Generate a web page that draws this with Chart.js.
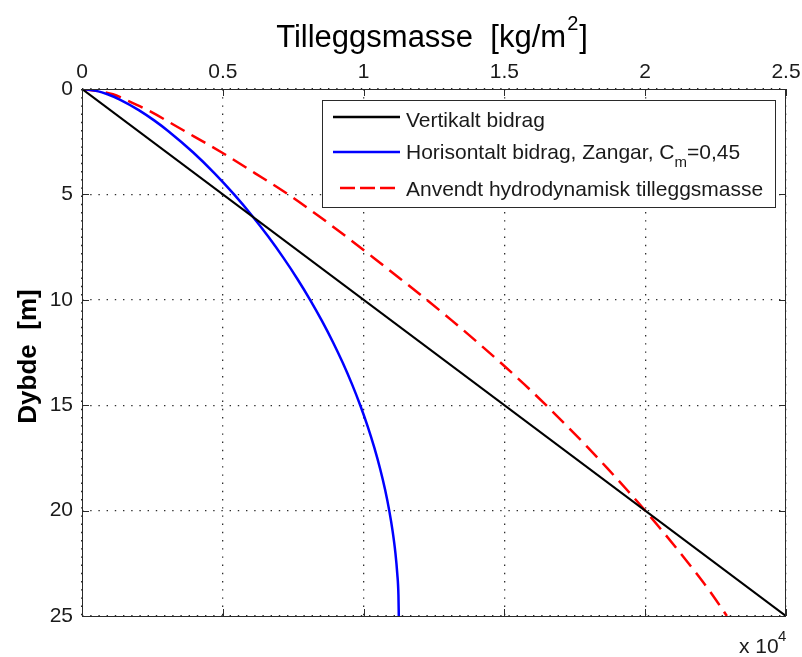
<!DOCTYPE html>
<html>
<head>
<meta charset="utf-8">
<script src="https://cdn.jsdelivr.net/npm/chart.js@4/dist/chart.umd.min.js"></script>
<style>
  html, body { margin: 0; padding: 0; background: #fff; }
  #wrap { width: 802px; height: 657px; position: relative; }
</style>
</head>
<body>
<div id="wrap"><canvas id="c" width="802" height="657"></canvas></div>
<script>
// Depth [m] and added mass [kg/m2] for each curve
const vertDepth = [0, 25];
const vertMass  = [0, 25000];

const horisDepth = [0, 0.1, 0.25, 0.5, 1, 1.5, 2, 3, 4, 5, 6, 7, 8, 9, 10, 11, 12, 13, 14, 15, 16, 17, 18, 19, 20, 21, 22, 23, 24, 25];
const horisMass  = [0, 547, 906, 1342, 2016, 2574, 3068, 3941, 4708, 5400, 6032, 6613, 7148, 7643, 8100, 8521, 8909, 9264, 9587, 9880, 10144, 10378, 10584, 10762, 10911, 11033, 11129, 11196, 11237, 11250];

const anvDepth = [0, 0.1, 0.25, 0.5, 1, 2, 3, 4, 5, 6, 7, 8, 9, 10, 11, 12, 13, 14, 15, 16, 17, 18, 19, 20, 21, 22, 23, 24, 25];
const anvMass  = [0, 600, 1100, 1540, 2330, 3650, 4950, 6150, 7320, 8380, 9380, 10350, 11300, 12240, 13150, 14030, 14880, 15700, 16480, 17230, 17960, 18660, 19340, 20000, 20630, 21240, 21830, 22390, 22900];

// Axis ticks
const xTickValues = [0, 5000, 10000, 15000, 20000, 25000];
const xTickLabels = ['0', '0.5', '1', '1.5', '2', '2.5'];
const yTickValues = [0, 5, 10, 15, 20, 25];
const yTickLabels = ['0', '5', '10', '15', '20', '25'];

const seriesNames = [
  'Vertikalt bidrag',
  'Horisontalt bidrag, Zangar, C',
  'Anvendt hydrodynamisk tilleggsmasse'
];

const FONT = "'Liberation Sans', Arial, Helvetica, sans-serif";
const toPoints = (ds, ms) => ds.map((d, i) => ({ x: ms[i], y: d }));

// Box, inward ticks, legend and free text in MATLAB style
const decorations = {
  id: 'decorations',
  afterDatasetsDraw(chart) {
    const { ctx, chartArea: a, scales: { x, y } } = chart;
    ctx.save();
    ctx.strokeStyle = '#2a2a2a';
    ctx.lineWidth = 1;
    ctx.setLineDash([]);
    ctx.beginPath();
    const tl = 7;
    xTickValues.forEach(v => {
      const px = Math.round(x.getPixelForValue(v)) + 0.5;
      ctx.moveTo(px, a.top); ctx.lineTo(px, a.top + tl);
      ctx.moveTo(px, a.bottom); ctx.lineTo(px, a.bottom - tl);
    });
    yTickValues.forEach(v => {
      const py = Math.round(y.getPixelForValue(v)) + 0.5;
      ctx.moveTo(a.left, py); ctx.lineTo(a.left + tl, py);
      ctx.moveTo(a.right, py); ctx.lineTo(a.right - tl, py);
    });
    ctx.stroke();
    ctx.strokeRect(Math.round(a.left) + 0.5, Math.round(a.top) + 0.5,
                   Math.round(a.right - a.left) - 1, Math.round(a.bottom - a.top));

    // legend box
    const lx = 322, ly = 100, lw = 453, lh = 107;
    ctx.fillStyle = '#fff';
    ctx.fillRect(lx, ly, lw, lh);
    ctx.strokeStyle = '#2a2a2a';
    ctx.strokeRect(lx + 0.5, ly + 0.5, lw, lh);

    const rows = [
      { color: '#000000', dash: [], width: 2.5, yLine: 117, yText: 127 },
      { color: '#0000ff', dash: [], width: 2.5, yLine: 152, yText: 159 },
      { color: '#ff0000', dash: [15, 5], width: 2.5, yLine: 188, yText: 196 }
    ];
    ctx.textBaseline = 'alphabetic';
    ctx.textAlign = 'left';
    rows.forEach((r, i) => {
      ctx.beginPath();
      ctx.strokeStyle = r.color;
      ctx.lineWidth = r.width;
      ctx.setLineDash(r.dash);
      ctx.moveTo(r.dash.length ? 340 : 333, r.yLine);
      ctx.lineTo(400, r.yLine);
      ctx.stroke();
      ctx.setLineDash([]);
      ctx.fillStyle = '#1a1a1a';
      ctx.font = `21px ${FONT}`;
      ctx.fillText(seriesNames[i], 406, r.yText);
      if (i === 1) {
        let cx = 406 + ctx.measureText(seriesNames[i]).width;
        ctx.font = `15px ${FONT}`;
        ctx.fillText('m', cx, r.yText + 8);
        cx += ctx.measureText('m').width;
        ctx.font = `21px ${FONT}`;
        ctx.fillText('=0,45', cx, r.yText);
      }
    });
    ctx.restore();
  },
  afterDraw(chart) {
    const { ctx, chartArea: a } = chart;
    ctx.save();
    ctx.fillStyle = '#000';
    // axis title on top
    const t1 = 'Tilleggsmasse  [kg/m', t2 = '2', t3 = ']';
    ctx.font = `31px ${FONT}`;
    const w1 = ctx.measureText(t1).width, w3 = ctx.measureText(t3).width;
    ctx.font = `20px ${FONT}`;
    const w2 = ctx.measureText(t2).width;
    const tx = (a.left + a.right) / 2 - (w1 + w2 + w3) / 2 - 3;
    const tb = 47;
    ctx.textBaseline = 'alphabetic';
    ctx.textAlign = 'left';
    ctx.font = `31px ${FONT}`;
    ctx.fillText(t1, tx, tb);
    ctx.font = `20px ${FONT}`;
    ctx.fillText(t2, tx + w1 + 1, tb - 17);
    ctx.font = `31px ${FONT}`;
    ctx.fillText(t3, tx + w1 + w2 + 2, tb);

    // depth axis title
    ctx.save();
    ctx.translate(29, (a.top + a.bottom) / 2 + 4);
    ctx.rotate(-Math.PI / 2);
    ctx.textAlign = 'center';
    ctx.textBaseline = 'middle';
    ctx.font = `bold 26px ${FONT}`;
    ctx.fillText('Dybde  [m]', 0, 0);
    ctx.restore();

    // exponent of the mass axis
    ctx.fillStyle = '#1a1a1a';
    ctx.font = `21px ${FONT}`;
    ctx.textAlign = 'left';
    ctx.fillText('x 10', 739, 653);
    ctx.font = `15px ${FONT}`;
    ctx.fillText('4', 778, 641);
    ctx.restore();
  }
};

new Chart(document.getElementById('c'), {
  type: 'line',
  data: {
    datasets: [
      {
        label: seriesNames[0],
        data: toPoints(vertDepth, vertMass),
        borderColor: '#000000', borderWidth: 2.2,
        pointRadius: 0, tension: 0
      },
      {
        label: seriesNames[1],
        data: toPoints(horisDepth, horisMass),
        borderColor: '#0000ff', borderWidth: 2.5,
        pointRadius: 0, cubicInterpolationMode: 'monotone'
      },
      {
        label: seriesNames[2],
        data: toPoints(anvDepth, anvMass),
        borderColor: '#ff0000', borderWidth: 2.5, borderDash: [16, 8],
        pointRadius: 0, cubicInterpolationMode: 'monotone'
      }
    ]
  },
  options: {
    responsive: false,
    animation: false,
    devicePixelRatio: 1,
    layout: { padding: { top: 0, left: 0, right: 16, bottom: 41 } },
    plugins: { legend: { display: false }, tooltip: { enabled: false }, title: { display: false } },
    scales: {
      x: {
        type: 'linear', position: 'top', min: 0, max: 25000,
        afterBuildTicks(s) { s.ticks = xTickValues.map(v => ({ value: v })); },
        afterFit(s) { s.height = 89; s.paddingLeft = 0; s.paddingRight = 0; },
        ticks: {
          autoSkip: false, maxRotation: 0, padding: 4,
          color: '#1a1a1a', font: { family: FONT, size: 21 },
          callback: (v, i) => xTickLabels[i]
        },
        grid: { color: '#2e2e2e', lineWidth: 1.3, drawTicks: false },
        border: { display: false, dash: [1.4, 6.8] }
      },
      y: {
        type: 'linear', position: 'left', min: 0, max: 25, reverse: true,
        afterBuildTicks(s) { s.ticks = yTickValues.map(v => ({ value: v })); },
        afterFit(s) { s.width = 82; s.paddingTop = 0; s.paddingBottom = 0; },
        ticks: {
          autoSkip: false, padding: 9,
          color: '#1a1a1a', font: { family: FONT, size: 21 },
          callback: (v, i) => yTickLabels[i]
        },
        grid: { color: '#2e2e2e', lineWidth: 1.3, drawTicks: false },
        border: { display: false, dash: [1.4, 6.8] }
      }
    }
  },
  plugins: [decorations]
});
</script>
</body>
</html>
